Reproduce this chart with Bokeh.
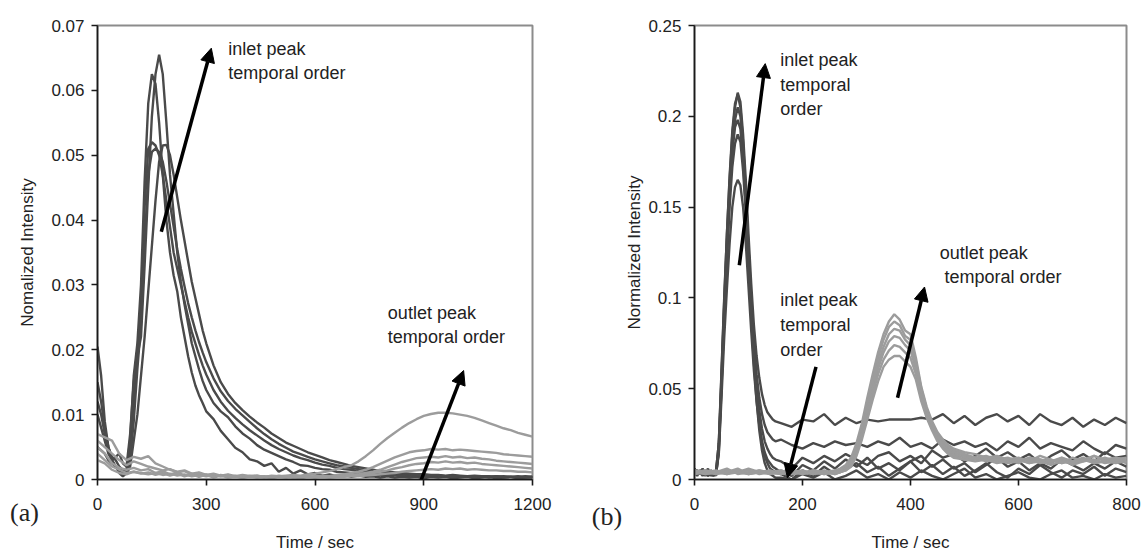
from math import pi
from bokeh.plotting import figure
from bokeh.models import Range1d, FixedTicker, Label, Arrow, NormalHead, Title
from bokeh.layouts import row
from bokeh.embed import file_html
from bokeh.resources import INLINE

FONT = "Liberation Sans"
SERIF = "Liberation Serif"
DARK = "#4a4a4a"
LIGHT = "#9c9c9c"
H = 557
TOP = 25
BOTTOM = 78

# ------------------------------------------------------------------ panel (a)
ta_in = list(range(0, 301, 10)) + list(range(320, 1201, 20))
ta_out = list(range(0, 1201, 20))

a_in_1 = [0.0205, 0.016, 0.009, 0.005, 0.003, 0.002, 0.0015, 0.001, 0.0015, 0.006,
          0.016, 0.021, 0.030, 0.046, 0.058, 0.0625, 0.061, 0.055, 0.047, 0.040,
          0.035, 0.0315, 0.029, 0.025, 0.022, 0.019, 0.0165, 0.0145, 0.013, 0.0118,
          0.0105,
          0.0093, 0.0075, 0.0062, 0.0049, 0.0042, 0.0031, 0.0028, 0.0021, 0.0025, 0.0012,
          0.0018, 0.0009, 0.0014, 0.0008, 0.0010, 0.0006, 0.0008, 0.0005, 0.0007, 0.0004,
          0.0006, 0.0004, 0.0005, 0.0003, 0.0005, 0.0003, 0.0004, 0.0003, 0.0004, 0.0002,
          0.0004, 0.0003, 0.0004, 0.0002, 0.0003, 0.0004, 0.0002, 0.0003, 0.0004, 0.0002,
          0.0003, 0.0004, 0.0002, 0.0003, 0.0003]
a_in_2 = [0.015, 0.012, 0.008, 0.005, 0.003, 0.002, 0.001, 0.0005, 0.001, 0.004,
          0.012, 0.019, 0.022, 0.033, 0.045, 0.056, 0.0625, 0.0655, 0.0625, 0.055,
          0.047, 0.041, 0.035, 0.0305, 0.027, 0.024, 0.021, 0.019, 0.017, 0.0152,
          0.0138,
          0.0118, 0.0105, 0.0096, 0.0082, 0.0071, 0.0063, 0.0053, 0.0046, 0.0041, 0.0036,
          0.0031, 0.0027, 0.0022, 0.0021, 0.0018, 0.0016, 0.0015, 0.0012, 0.0011, 0.0010,
          0.0009, 0.0008, 0.0008, 0.0007, 0.0006, 0.0007, 0.0005, 0.0006, 0.0005, 0.0006,
          0.0004, 0.0005, 0.0004, 0.0006, 0.0004, 0.0005, 0.0004, 0.0005, 0.0003, 0.0005,
          0.0004, 0.0004, 0.0003, 0.0005, 0.0004]
a_in_3 = [0.010, 0.008, 0.006, 0.004, 0.003, 0.0035, 0.004, 0.0025, 0.002, 0.007,
          0.015, 0.020, 0.026, 0.042, 0.051, 0.052, 0.0515, 0.050, 0.047, 0.043,
          0.039, 0.035, 0.0325, 0.030, 0.0275, 0.025, 0.0228, 0.021, 0.0192, 0.0176,
          0.0162,
          0.0138, 0.0120, 0.0106, 0.0095, 0.0085, 0.0076, 0.0068, 0.0060, 0.0053, 0.0047,
          0.0042, 0.0037, 0.0033, 0.0030, 0.0026, 0.0023, 0.0021, 0.0018, 0.0016, 0.0015,
          0.0013, 0.0012, 0.0011, 0.0009, 0.0009, 0.0008, 0.0007, 0.0007, 0.0006, 0.0006,
          0.0005, 0.0006, 0.0005, 0.0005, 0.0004, 0.0005, 0.0004, 0.0005, 0.0004, 0.0004,
          0.0003, 0.0004, 0.0004, 0.0003, 0.0004]
a_in_4 = [0.005, 0.0045, 0.004, 0.003, 0.0025, 0.002, 0.0015, 0.001, 0.001, 0.003,
          0.009, 0.017, 0.024, 0.036, 0.047, 0.0505, 0.051, 0.0505, 0.049, 0.046,
          0.0425, 0.039, 0.0355, 0.0325, 0.0298, 0.0272, 0.025, 0.023, 0.0212, 0.0196,
          0.0181,
          0.0156, 0.0136, 0.0121, 0.0109, 0.0099, 0.0089, 0.0079, 0.0070, 0.0062, 0.0055,
          0.0049, 0.0043, 0.0039, 0.0035, 0.0031, 0.0028, 0.0025, 0.0022, 0.0020, 0.0018,
          0.0016, 0.0014, 0.0013, 0.0011, 0.0010, 0.0009, 0.0009, 0.0008, 0.0007, 0.0007,
          0.0006, 0.0006, 0.0005, 0.0006, 0.0005, 0.0005, 0.0004, 0.0005, 0.0004, 0.0005,
          0.0004, 0.0004, 0.0003, 0.0004, 0.0004]
a_in_5 = [0.012, 0.010, 0.007, 0.005, 0.0035, 0.003, 0.002, 0.0015, 0.0008, 0.002,
          0.006, 0.010, 0.016, 0.022, 0.029, 0.036, 0.043, 0.049, 0.0515, 0.0516,
          0.050, 0.047, 0.0435, 0.040, 0.0368, 0.0336, 0.0305, 0.028, 0.0255, 0.023,
          0.021,
          0.0176, 0.0150, 0.0132, 0.0118, 0.0107, 0.0097, 0.0088, 0.0080, 0.0071, 0.0064,
          0.0057, 0.0052, 0.0047, 0.0042, 0.0038, 0.0034, 0.0030, 0.0027, 0.0024, 0.0021,
          0.0019, 0.0017, 0.0015, 0.0013, 0.0012, 0.0011, 0.0010, 0.0009, 0.0008, 0.0008,
          0.0007, 0.0007, 0.0006, 0.0007, 0.0006, 0.0005, 0.0006, 0.0005, 0.0005, 0.0004,
          0.0005, 0.0004, 0.0005, 0.0004, 0.0004]

a_out_1 = [0.004, 0.003, 0.002, 0.0015, 0.001, 0.0012, 0.001, 0.0008, 0.001, 0.0007,
           0.0009, 0.0006, 0.0008, 0.0005, 0.0007, 0.0005, 0.0007, 0.0005, 0.0006, 0.0004,
           0.0006, 0.0005, 0.0006, 0.0004, 0.0006, 0.0005, 0.0006, 0.0007, 0.0006, 0.0008,
           0.0009, 0.0011, 0.0013, 0.0016, 0.0019, 0.0022, 0.0028, 0.0036, 0.0045, 0.0055,
           0.0064, 0.0072, 0.0080, 0.0087, 0.0093, 0.0098, 0.0101, 0.0103, 0.0103, 0.0102,
           0.0100, 0.0098, 0.0095, 0.0091, 0.0087, 0.0083, 0.0079, 0.0076, 0.0072, 0.0069,
           0.0066]
a_out_2 = [0.007, 0.0065, 0.006, 0.004, 0.003, 0.0035, 0.0032, 0.0036, 0.0025, 0.002,
           0.0015, 0.0012, 0.0014, 0.0009, 0.0011, 0.0007, 0.0009, 0.0006, 0.0008, 0.0005,
           0.0007, 0.0005, 0.0006, 0.0004, 0.0005, 0.0004, 0.0005, 0.0004, 0.0005, 0.0004,
           0.0005, 0.0006, 0.0005, 0.0007, 0.0008, 0.0010, 0.0012, 0.0015, 0.0019, 0.0024,
           0.0029, 0.0034, 0.0038, 0.0042, 0.0044, 0.0045, 0.0047, 0.0046, 0.0047, 0.0045,
           0.0046, 0.0045, 0.0044, 0.0043, 0.0042, 0.0041, 0.0039, 0.0038, 0.0037, 0.0036,
           0.0035]
a_out_3 = [0.006, 0.005, 0.004, 0.003, 0.0022, 0.0028, 0.0024, 0.002, 0.0017, 0.0014,
           0.0016, 0.0011, 0.0013, 0.0008, 0.0010, 0.0006, 0.0008, 0.0005, 0.0007, 0.0004,
           0.0006, 0.0004, 0.0005, 0.0003, 0.0005, 0.0004, 0.0005, 0.0003, 0.0004, 0.0005,
           0.0004, 0.0005, 0.0004, 0.0005, 0.0006, 0.0007, 0.0008, 0.0010, 0.0012, 0.0015,
           0.0019, 0.0023, 0.0027, 0.0030, 0.0033, 0.0034, 0.0035, 0.0034, 0.0036, 0.0034,
           0.0035, 0.0033, 0.0034, 0.0032, 0.0031, 0.0029, 0.0028, 0.0027, 0.0026, 0.0025,
           0.0024]
a_out_4 = [0.005, 0.004, 0.0025, 0.0018, 0.0015, 0.0018, 0.0014, 0.0016, 0.001, 0.0013,
           0.0008, 0.0011, 0.0006, 0.0009, 0.0005, 0.0008, 0.0004, 0.0007, 0.0004, 0.0006,
           0.0003, 0.0006, 0.0004, 0.0005, 0.0003, 0.0006, 0.0004, 0.0005, 0.0003, 0.0005,
           0.0004, 0.0005, 0.0004, 0.0005, 0.0005, 0.0006, 0.0007, 0.0008, 0.0010, 0.0012,
           0.0014, 0.0017, 0.0019, 0.0022, 0.0024, 0.0025, 0.0027, 0.0026, 0.0028, 0.0026,
           0.0027, 0.0025, 0.0026, 0.0024, 0.0023, 0.0022, 0.0021, 0.0020, 0.0019, 0.0018,
           0.0017]
a_out_5 = [0.003, 0.0025, 0.0015, 0.001, 0.0008, 0.0012, 0.0009, 0.0011, 0.0007, 0.001,
           0.0006, 0.0009, 0.0005, 0.0008, 0.0004, 0.0007, 0.0003, 0.0006, 0.0003, 0.0005,
           0.0002, 0.0005, 0.0003, 0.0004, 0.0002, 0.0004, 0.0003, 0.0004, 0.0002, 0.0004,
           0.0003, 0.0004, 0.0003, 0.0004, 0.0004, 0.0005, 0.0005, 0.0006, 0.0007, 0.0008,
           0.0009, 0.0010, 0.0012, 0.0013, 0.0014, 0.0015, 0.0016, 0.0015, 0.0017, 0.0016,
           0.0017, 0.0015, 0.0016, 0.0015, 0.0014, 0.0014, 0.0013, 0.0013, 0.0012, 0.0012,
           0.0011]

a_x_ticks = [0, 300, 600, 900, 1200]
a_y_ticks = [0, 0.01, 0.02, 0.03, 0.04, 0.05, 0.06, 0.07]
a_y_labels = ["0", "0.01", "0.02", "0.03", "0.04", "0.05", "0.06", "0.07"]

# ------------------------------------------------------------------ panel (b)
tb_in = list(range(0, 151, 5)) + list(range(160, 801, 20))
tb_out = list(range(0, 261, 20)) + list(range(270, 481, 10)) + list(range(500, 801, 20))

b_in_1 = [0.006, 0.004, 0.005, 0.003, 0.004, 0.002, 0.003, 0.004, 0.005, 0.02,
          0.06, 0.10, 0.135, 0.165, 0.19, 0.205, 0.213, 0.208, 0.19, 0.165,
          0.135, 0.108, 0.085, 0.068, 0.056, 0.047, 0.041, 0.037, 0.035, 0.033,
          0.032,
          0.031, 0.029, 0.033, 0.032, 0.036, 0.030, 0.034, 0.031, 0.033, 0.032,
          0.033, 0.033, 0.033, 0.034, 0.033, 0.036, 0.031, 0.035, 0.030, 0.034,
          0.036, 0.032, 0.035, 0.030, 0.036, 0.032, 0.030, 0.034, 0.029, 0.033,
          0.030, 0.034, 0.031]
b_in_2 = [0.004, 0.005, 0.003, 0.005, 0.002, 0.004, 0.003, 0.002, 0.004, 0.018,
          0.055, 0.095, 0.13, 0.16, 0.183, 0.198, 0.205, 0.20, 0.183, 0.158,
          0.128, 0.10, 0.077, 0.058, 0.045, 0.036, 0.030, 0.026, 0.024, 0.022,
          0.021,
          0.022, 0.019, 0.017, 0.020, 0.018, 0.021, 0.019, 0.020, 0.018, 0.021,
          0.019, 0.023, 0.018, 0.020, 0.017, 0.022, 0.019, 0.021, 0.018, 0.020,
          0.016, 0.021, 0.018, 0.023, 0.017, 0.020, 0.018, 0.016, 0.021, 0.017,
          0.014, 0.019, 0.017]
b_in_3 = [0.003, 0.005, 0.004, 0.002, 0.005, 0.003, 0.004, 0.002, 0.003, 0.015,
          0.05, 0.088, 0.12, 0.15, 0.172, 0.185, 0.19, 0.186, 0.17, 0.147,
          0.12, 0.093, 0.07, 0.052, 0.038, 0.028, 0.021, 0.017, 0.014, 0.012,
          0.011,
          0.010, 0.006, 0.012, 0.009, 0.013, 0.010, 0.014, 0.011, 0.008, 0.013,
          0.015, 0.010, 0.013, 0.009, 0.016, 0.012, 0.014, 0.010, 0.013, 0.017,
          0.012, 0.015, 0.011, 0.014, 0.009, 0.013, 0.016, 0.011, 0.014, 0.010,
          0.015, 0.012, 0.013]
b_in_4 = [0.005, 0.003, 0.004, 0.006, 0.003, 0.002, 0.005, 0.003, 0.004, 0.014,
          0.045, 0.078, 0.105, 0.13, 0.15, 0.161, 0.165, 0.162, 0.15, 0.13,
          0.106, 0.082, 0.06, 0.043, 0.030, 0.021, 0.015, 0.011, 0.009, 0.007,
          0.006,
          0.004, 0.002, 0.008, 0.005, 0.010, 0.006, 0.011, 0.007, 0.012, 0.006,
          0.009, 0.005, 0.010, 0.013, 0.007, 0.011, 0.006, 0.009, 0.004, 0.008,
          0.012, 0.007, 0.010, 0.005, 0.009, 0.006, 0.011, 0.008, 0.005, 0.009,
          0.006, 0.010, 0.007]
b_in_5 = [0.004, 0.002, 0.005, 0.003, 0.004, 0.006, 0.002, 0.003, 0.005, 0.02,
          0.058, 0.098, 0.135, 0.167, 0.192, 0.207, 0.212, 0.205, 0.186, 0.158,
          0.126, 0.095, 0.068, 0.047, 0.031, 0.020, 0.013, 0.009, 0.006, 0.005,
          0.004,
          0.003, 0.000, 0.005, 0.002, 0.007, 0.003, 0.006, 0.009, 0.004, 0.007,
          0.002, 0.006, 0.010, 0.004, 0.008, 0.003, 0.007, 0.002, 0.005, 0.009,
          0.004, 0.001, 0.006, 0.003, 0.008, 0.004, 0.001, 0.005, 0.003, 0.007,
          0.002, 0.006, 0.004]
b_in_6 = [0.006, 0.004, 0.003, 0.005, 0.004, 0.003, 0.005, 0.004, 0.002, 0.017,
          0.052, 0.09, 0.125, 0.156, 0.18, 0.194, 0.198, 0.193, 0.175, 0.15,
          0.12, 0.09, 0.064, 0.043, 0.027, 0.016, 0.009, 0.005, 0.003, 0.002,
          0.001,
          0.001, 0.000, 0.003, 0.001, 0.004, 0.000, 0.002, 0.005, 0.001, 0.003,
          0.000, 0.004, 0.001, 0.005, 0.002, 0.000, 0.003, 0.006, 0.001, 0.003,
          0.000, 0.002, 0.004, 0.001, 0.000, 0.003, 0.005, 0.001, 0.002, 0.000,
          0.003, 0.001, 0.002]

b_out_1 = [0.004, 0.005, 0.003, 0.005, 0.004, 0.006, 0.004, 0.005, 0.003, 0.004, 0.005, 0.003, 0.004, 0.005,
           0.006, 0.008, 0.012, 0.020, 0.031, 0.045, 0.058, 0.070, 0.080, 0.087, 0.091,
           0.088, 0.082, 0.080, 0.067, 0.051, 0.040, 0.032, 0.026, 0.022, 0.019, 0.017,
           0.015, 0.014, 0.012, 0.013, 0.011, 0.012, 0.010, 0.013, 0.011, 0.009, 0.012, 0.010,
           0.013, 0.011, 0.012, 0.011]
b_out_2 = [0.005, 0.003, 0.004, 0.006, 0.003, 0.004, 0.005, 0.003, 0.004, 0.006, 0.003, 0.005, 0.004, 0.004,
           0.005, 0.007, 0.011, 0.018, 0.029, 0.042, 0.055, 0.067, 0.077, 0.084, 0.087,
           0.085, 0.079, 0.077, 0.065, 0.050, 0.039, 0.031, 0.025, 0.021, 0.018, 0.016,
           0.014, 0.012, 0.013, 0.011, 0.012, 0.010, 0.012, 0.011, 0.009, 0.012, 0.010, 0.011,
           0.013, 0.010, 0.011, 0.012]
b_out_3 = [0.003, 0.004, 0.005, 0.003, 0.005, 0.003, 0.004, 0.003, 0.005, 0.003, 0.004, 0.004, 0.003, 0.004,
           0.005, 0.006, 0.010, 0.017, 0.027, 0.040, 0.052, 0.064, 0.073, 0.080, 0.083,
           0.082, 0.077, 0.074, 0.063, 0.049, 0.038, 0.030, 0.024, 0.020, 0.017, 0.015,
           0.013, 0.012, 0.011, 0.012, 0.010, 0.011, 0.009, 0.011, 0.010, 0.012, 0.009, 0.011,
           0.010, 0.012, 0.010, 0.010]
b_out_4 = [0.004, 0.003, 0.004, 0.004, 0.006, 0.003, 0.004, 0.004, 0.003, 0.005, 0.004, 0.003, 0.005, 0.003,
           0.004, 0.006, 0.009, 0.016, 0.026, 0.038, 0.050, 0.061, 0.070, 0.076, 0.079,
           0.078, 0.074, 0.071, 0.061, 0.047, 0.037, 0.029, 0.023, 0.019, 0.016, 0.014,
           0.012, 0.011, 0.012, 0.010, 0.011, 0.009, 0.012, 0.010, 0.011, 0.009, 0.010, 0.012,
           0.009, 0.010, 0.011, 0.009]
b_out_5 = [0.005, 0.004, 0.003, 0.004, 0.004, 0.005, 0.003, 0.004, 0.005, 0.003, 0.004, 0.005, 0.004, 0.003,
           0.004, 0.005, 0.008, 0.014, 0.024, 0.035, 0.047, 0.058, 0.066, 0.071, 0.074,
           0.073, 0.070, 0.067, 0.058, 0.045, 0.035, 0.028, 0.022, 0.018, 0.015, 0.013,
           0.011, 0.012, 0.010, 0.011, 0.009, 0.010, 0.011, 0.009, 0.010, 0.011, 0.008, 0.010,
           0.011, 0.009, 0.010, 0.010]
b_out_6 = [0.003, 0.005, 0.004, 0.003, 0.004, 0.003, 0.005, 0.004, 0.003, 0.004, 0.003, 0.004, 0.003, 0.004,
           0.004, 0.005, 0.007, 0.013, 0.022, 0.033, 0.044, 0.054, 0.062, 0.066, 0.068,
           0.068, 0.065, 0.062, 0.055, 0.043, 0.034, 0.027, 0.021, 0.017, 0.014, 0.012,
           0.011, 0.010, 0.011, 0.009, 0.010, 0.011, 0.009, 0.010, 0.008, 0.010, 0.009, 0.011,
           0.009, 0.010, 0.009, 0.010]

b_x_ticks = [0, 200, 400, 600, 800]
b_y_ticks = [0, 0.05, 0.1, 0.15, 0.2, 0.25]
b_y_labels = ["0", "0.05", "0.1", "0.15", "0.2", "0.25"]


# ------------------------------------------------------------------ helpers
def make_fig(width, x_end, y_end, xticks, yticks, ylabels, left, right):
    p = figure(width=width, height=H,
               x_range=Range1d(0, x_end), y_range=Range1d(0, y_end),
               output_backend="svg", toolbar_location=None,
               min_border_left=left, min_border_right=right,
               min_border_top=TOP, min_border_bottom=BOTTOM)
    p.grid.visible = False
    p.background_fill_color = "white"
    p.border_fill_color = "white"
    p.outline_line_color = "#8c8c8c"
    p.outline_line_width = 2
    for ax in (p.xaxis[0], p.yaxis[0]):
        ax.axis_line_color = "#1a1a1a"
        ax.axis_line_width = 1.6
        ax.major_tick_line_color = "#1a1a1a"
        ax.major_tick_line_width = 1.6
        ax.major_tick_out = 6
        ax.major_tick_in = 0
        ax.minor_tick_line_color = None
        ax.major_label_text_font = FONT
        ax.major_label_text_font_size = "17px"
        ax.major_label_text_color = "#222222"
        ax.axis_label_text_font = FONT
        ax.axis_label_text_font_size = "17px"
        ax.axis_label_text_font_style = "normal"
        ax.axis_label_text_color = "#222222"
    p.xaxis.ticker = FixedTicker(ticks=xticks)
    p.yaxis.ticker = FixedTicker(ticks=yticks)
    p.yaxis.major_label_overrides = dict(zip(yticks, ylabels))
    p.xaxis.major_label_standoff = 12
    p.yaxis.major_label_standoff = 7
    p.xaxis.axis_label = "Time / sec"
    p.xaxis.axis_label_standoff = 20
    return p


def side_fig(width, letter, offset, standoff):
    # narrow strip beside a panel: carries the panel letter and the y title
    s = figure(width=width, height=H, x_range=Range1d(0, 1), y_range=Range1d(0, 1),
               output_backend="svg", toolbar_location=None,
               x_axis_location=None, y_axis_location=None,
               min_border_left=0, min_border_right=0,
               min_border_top=TOP, min_border_bottom=BOTTOM)
    s.grid.visible = False
    s.outline_line_color = None
    s.background_fill_color = "white"
    s.border_fill_color = "white"
    s.add_layout(Title(text=letter, align="center", offset=offset, standoff=standoff,
                       text_font=SERIF, text_font_size="26px", text_font_style="normal",
                       text_color="#222222"), "below")
    return s


def series(p, t, ys, color):
    for y in ys:
        n = min(len(t), len(y))
        p.line(t[:n], y[:n], line_color=color, line_width=2.4)


def text(p, x, y, s, size="18px", font=FONT, align="left", angle=0.0):
    p.add_layout(Label(x=x, y=y, text=s, text_font=font, text_font_size=size,
                       text_color="#222222", text_align=align,
                       text_baseline="middle", angle=angle))


def arrow(p, x0, y0, x1, y1):
    p.add_layout(Arrow(end=NormalHead(size=14, fill_color="black", line_color="black"),
                       x_start=x0, y_start=y0, x_end=x1, y_end=y1,
                       line_color="black", line_width=3.5, level="overlay"))


# ------------------------------------------------------------------ strip + figure (a)
sa = side_fig(48, "(a)", offset=5, standoff=33)
text(sa, 0.5625, 0.5, "Nomalized Intensity", size="17px", align="center", angle=pi / 2)

pa = make_fig(520, 1200, 0.07, a_x_ticks, a_y_ticks, a_y_labels, left=48, right=36)
series(pa, ta_in, [a_in_1, a_in_2, a_in_3, a_in_4, a_in_5], DARK)
series(pa, ta_out, [a_out_1, a_out_2, a_out_3, a_out_4, a_out_5], LIGHT)
arrow(pa, 176, 0.0382, 314, 0.0665)
arrow(pa, 878, -0.0022, 1010, 0.0168)
text(pa, 361, 0.0664, "inlet peak")
text(pa, 361, 0.0626, "temporal order")
text(pa, 801, 0.0256, "outlet peak")
text(pa, 801, 0.0220, "temporal order")

# ------------------------------------------------------------------ strip + figure (b)
sb = side_fig(77, "(b)", offset=5, standoff=40)
text(sb, 0.86, 0.5, "Normalized Intensity", size="17px", align="center", angle=pi / 2)

pb = make_fig(498, 800, 0.25, b_x_ticks, b_y_ticks, b_y_labels, left=47, right=17)
series(pb, tb_in, [b_in_1, b_in_2, b_in_3, b_in_4, b_in_5, b_in_6], DARK)
series(pb, tb_out, [b_out_1, b_out_2, b_out_3, b_out_4, b_out_5, b_out_6], LIGHT)
arrow(pb, 83, 0.118, 131, 0.229)
arrow(pb, 225, 0.062, 172, 0.001)
arrow(pb, 376, 0.045, 426, 0.106)
text(pb, 159, 0.2308, "inlet peak")
text(pb, 159, 0.2171, "temporal")
text(pb, 159, 0.2039, "order")
text(pb, 159, 0.0987, "inlet peak")
text(pb, 159, 0.0850, "temporal")
text(pb, 159, 0.0715, "order")
text(pb, 454, 0.1245, "outlet peak")
text(pb, 463, 0.1113, "temporal order")

layout = row(sa, pa, sb, pb)
open("out.html", "w").write(file_html(layout, INLINE))
